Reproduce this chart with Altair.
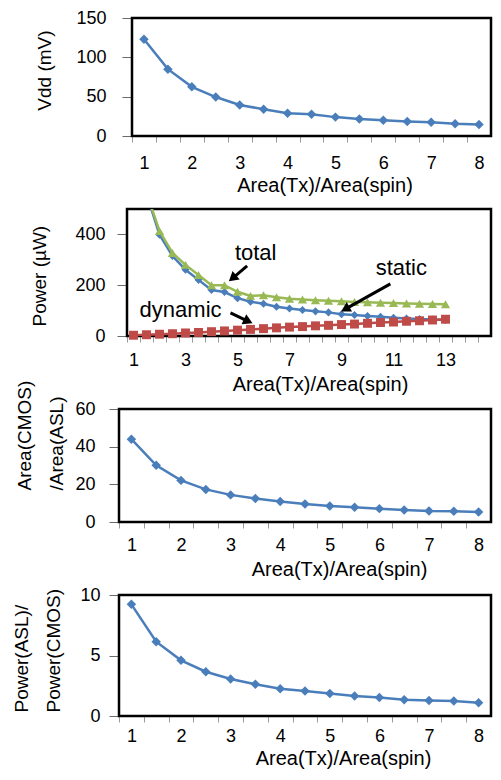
import math
import altair as alt
import pandas as pd

FONT = "Liberation Sans"
BLUE = "#4A7EBB"
RED = "#BE4B48"
GREEN = "#98B954"

# ---------------- data ----------------
ratio_x = [1, 1.5, 2, 2.5, 3, 3.5, 4, 4.5, 5, 5.5, 6, 6.5, 7, 7.5, 8]
vdd_mv = [123, 85, 62.5, 49.5, 39.5, 34, 29, 27.5, 24, 21.5, 20, 18.5, 17.5, 15.7, 14.7]
area_ratio = [44, 30.1, 22.1, 17.3, 14.4, 12.5, 10.9, 9.6, 8.5, 7.8, 7.1, 6.4, 5.9, 5.7, 5.3]
power_ratio = [9.23, 6.14, 4.6, 3.66, 3.06, 2.62, 2.26, 2.07, 1.85, 1.65, 1.52, 1.35, 1.29, 1.24, 1.1]

power_x = [1, 1.5, 2, 2.5, 3, 3.5, 4, 4.5, 5, 5.5, 6, 6.5, 7, 7.5, 8, 8.5,
           9, 9.5, 10, 10.5, 11, 11.5, 12, 12.5, 13]
power_axis_x = power_x + [13.5, 14, 14.5]
static_uw = [1000, 560, 399, 315, 261, 221, 181, 173, 149, 135, 127, 115, 108,
             102, 97, 93, 86, 83, 79, 76, 72, 69, 67, 65, 63]
dynamic_uw = [3, 5, 7, 9, 12, 14, 17, 20, 23, 26, 29, 32, 35, 37, 40, 42, 45,
              47, 50, 53, 55, 58, 60, 63, 66]
total_uw = [1003, 565, 413, 327, 280, 240, 200, 200, 174, 158, 160, 153, 147,
            144, 141, 139, 137, 134, 133, 131, 130, 128, 127, 126, 125]

ann_text = ["total", "static", "dynamic"]
ann_x = [5.70, 11.30, 2.81]
ann_y = [327, 268, 102]
arrow_x1 = [5.37, 10.88, 4.73]
arrow_y1 = [276, 205, 91]
arrow_x2 = [4.69, 9.01, 5.55]
arrow_y2 = [217, 98, 51]

X_TITLE = "Area(Tx)/Area(spin)"

PLOT_W = 372
SPACING = 73


def make_panel(series, axis_cats, label_step, ymax, yticks, ytitle, height,
               box_off, ytitle_x, ytitle_y, ytitle_align, ylab_pad, xlab_pad,
               xtitle_x, xtitle_y, extra=None):
    lo = axis_cats[0] - 0.25
    hi = axis_cats[-1] + 0.25
    ppu = (PLOT_W - box_off) / (hi - lo)
    xscale = alt.Scale(domain=[lo, hi], range=[box_off, PLOT_W], nice=False, zero=False)
    yscale = alt.Scale(domain=[0, ymax], nice=False, zero=True)
    tick_vals = [c - 0.25 for c in axis_cats]
    first = axis_cats[0]
    label_expr = (f"(((datum.value + 0.25 - {first}) % {label_step}) == 0)"
                  f" ? format(datum.value + 0.25, 'd') : ''")
    xaxis = alt.Axis(
        values=tick_vals, tickCount=len(tick_vals) + 1,
        labelExpr=label_expr, labelOffset=ppu * 0.25,
        domain=False, grid=False, ticks=True, tickSize=6, tickColor="#9a9a9a",
        tickWidth=1, labelFont=FONT, labelFontSize=18, labelColor="black",
        labelBaseline="middle", labelPadding=xlab_pad, labelOverlap=False,
        labelFlush=False,
        title=X_TITLE, titleFont=FONT, titleFontSize=20, titleFontWeight="normal",
        titleColor="black", titleX=xtitle_x, titleY=xtitle_y,
        titleBaseline="middle", titleAlign="center",
    )
    yaxis = alt.Axis(
        values=yticks, tickCount=len(yticks) + 1,
        domain=False, grid=False, ticks=True, tickSize=10,
        tickColor="#6a6a6a", tickWidth=1, labelFont=FONT, labelFontSize=18,
        labelColor="black", labelPadding=ylab_pad, labelOverlap=False,
        labelFlush=False, offset=-box_off,
        title=ytitle, titleFont=FONT, titleFontSize=19, titleFontWeight="normal",
        titleColor="black", titleAngle=270, titleAlign=ytitle_align,
        titleBaseline="top", titleX=ytitle_x, titleY=ytitle_y, titleLineHeight=32,
    )
    box_df = pd.DataFrame({"x0": [lo], "x1": [hi], "y0": [0], "y1": [ymax]})
    box = alt.Chart(box_df).mark_rect(
        fillOpacity=0, stroke="black", strokeWidth=2.5
    ).encode(
        x=alt.X("x0:Q", scale=xscale, axis=xaxis),
        x2="x1:Q",
        y=alt.Y("y0:Q", scale=yscale, axis=yaxis),
        y2="y1:Q",
    )
    layers = [box]
    for xs, ys, color, shape, size in series:
        df = pd.DataFrame({"x": xs, "y": ys})
        base = alt.Chart(df).encode(
            x=alt.X("x:Q", scale=xscale),
            y=alt.Y("y:Q", scale=yscale),
        )
        needs_clip = max(ys) > ymax
        layers.append(base.mark_line(color=color, strokeWidth=2.5, clip=True))
        layers.append(base.mark_point(shape=shape, filled=True, size=size,
                                      color=color, opacity=1, clip=needs_clip))
    if extra is not None:
        layers.extend(extra(xscale, yscale, ppu, height / ymax))
    return alt.layer(*layers).properties(width=PLOT_W, height=height)


def annotations(xscale, yscale, ppx, ppy):
    t_df = pd.DataFrame({"label": ann_text, "x": ann_x, "y": ann_y})
    text = alt.Chart(t_df).mark_text(
        font=FONT, fontSize=22, color="black", align="center", baseline="middle"
    ).encode(
        x=alt.X("x:Q", scale=xscale),
        y=alt.Y("y:Q", scale=yscale),
        text="label:N",
    )
    rows = []
    for x1, y1, x2, y2 in zip(arrow_x1, arrow_y1, arrow_x2, arrow_y2):
        dxp = (x2 - x1) * ppx
        dyp = -(y2 - y1) * ppy
        ang = math.degrees(math.atan2(dyp, dxp)) % 360
        length = math.hypot(dxp, dyp)
        back = 4.0 / length
        hx = x2 - (x2 - x1) * back
        hy = y2 - (y2 - y1) * back
        rows.append({"x": x1, "y": y1, "x2": hx, "y2": hy, "ang": ang})
    a_df = pd.DataFrame(rows)
    shaft = alt.Chart(a_df).mark_rule(color="black", strokeWidth=3).encode(
        x=alt.X("x:Q", scale=xscale),
        y=alt.Y("y:Q", scale=yscale),
        x2="x2:Q",
        y2="y2:Q",
    )
    head = alt.Chart(a_df).mark_point(
        shape="triangle-right", filled=True, size=120, color="black", opacity=1
    ).encode(
        x=alt.X("x2:Q", scale=xscale),
        y=alt.Y("y2:Q", scale=yscale),
        angle=alt.Angle("ang:Q", scale=None),
    )
    return [shaft, head, text]


p1 = make_panel(
    [(ratio_x, vdd_mv, BLUE, "diamond", 90)], ratio_x, 1, 150, [0, 50, 100, 150],
    "Vdd (mV)", 118, 13, -97, 52, "center", 16, 21, 205.5, 49,
)
p2 = make_panel(
    [(power_x, static_uw, BLUE, "diamond", 65),
     (power_x, dynamic_uw, RED, "square", 80),
     (power_x, total_uw, GREEN, "triangle-up", 85)],
    power_axis_x, 2, 500, [0, 200, 400], "Power (µW)", 127, 8, -97, 127 - 10,
    "left", 12, 18, 201, 48, extra=annotations,
)
p3 = make_panel(
    [(ratio_x, area_ratio, BLUE, "diamond", 90)], ratio_x, 1, 60, [0, 20, 40, 60],
    ["Area(CMOS)", "/Area(ASL)"], 113, 0, -104, 113 - 32, "left", 14, 17, 220, 47,
)
p4 = make_panel(
    [(ratio_x, power_ratio, BLUE, "diamond", 90)], ratio_x, 1, 10, [0, 5, 10],
    ["Power(ASL)/", "Power(CMOS)"], 121, 0, -107, 121 - 4, "left", 9, 14, 224, 42,
)

chart = alt.vconcat(p1, p2, p3, p4, spacing=SPACING, bounds="flush").properties(
    padding={"left": 4, "top": 1, "right": 0, "bottom": 2},
    background="white",
).configure_view(strokeWidth=0)

chart.save("out.html", embed_options={"renderer": "svg", "actions": False})
